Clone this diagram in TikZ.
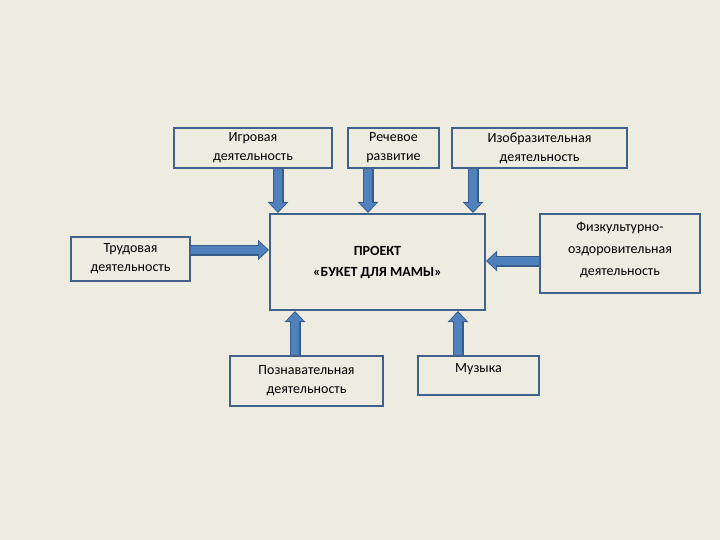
\documentclass[tikz,border=0pt]{standalone}
\usepackage{fontspec}
\setmainfont{Carlito}
\usetikzlibrary{arrows.meta,positioning}
\definecolor{bgcol}{HTML}{EEEBE0}
\definecolor{boxline}{HTML}{40618C}
\definecolor{arrfill}{HTML}{4F81BD}
\definecolor{arrline}{HTML}{385D8A}
\tikzset{
  box/.style={draw=boxline, line width=2pt, anchor=north west, align=center,
    font=\fontsize{14}{19}\selectfont, inner sep=1pt},
  arrout/.style={draw=arrline, line width=11pt, -{Triangle[length=11pt,width=20pt]}},
  arrin/.style={draw=arrfill, line width=8pt, shorten >=1.5pt, -{Triangle[length=8.5pt,width=16pt]}}
}
\newcommand{\fatarrow}[2]{\draw[arrout] (#1) -- (#2); \draw[arrin] (#1) -- (#2);}
\begin{document}
\begin{tikzpicture}[x=1pt,y=-1pt]
\fill[bgcol] (0,0) rectangle (720,540);
\useasboundingbox (0,0) rectangle (720,540);

\node[box, minimum width=158pt, minimum height=40pt] (igr) at (173,127) {Игровая\\деятельность};
\node[box, minimum width=91pt, minimum height=40pt] (rech) at (347,127) {Речевое\\развитие};
\node[box, minimum width=175pt, minimum height=40pt] (izo) at (451,127) {Изобразительная\\деятельность};
\node[box, minimum width=215pt, minimum height=96pt, font=\fontsize{14}{21}\selectfont\bfseries] (proj) at (269,213) {ПРОЕКТ\\«БУКЕТ ДЛЯ МАМЫ»};
\node[box, minimum width=119pt, minimum height=44pt] (trud) at (70,236) {Трудовая\\деятельность};
\node[box, minimum width=160pt, minimum height=79pt, font=\fontsize{14}{22}\selectfont, text depth=10pt] (fiz) at (539,213) {Физкультурно-\\оздоровительная\\деятельность};
\node[box, minimum width=153pt, minimum height=50pt] (pozn) at (229,355) {Познавательная\\деятельность};
\node[box, minimum width=121pt, minimum height=39pt, text depth=14pt] (muz) at (417,355) {Музыка};

% arrows into the project box
\fatarrow{igr.south -| 278,0}{proj.north -| 278,0}
\fatarrow{rech.south -| 368,0}{proj.north -| 368,0}
\fatarrow{izo.south -| 473,0}{proj.north -| 473,0}
\fatarrow{trud.east |- 0,250}{proj.west |- 0,250}
\fatarrow{fiz.west |- 0,261}{proj.east |- 0,261}
\fatarrow{pozn.north -| 295,0}{proj.south -| 295,0}
\fatarrow{muz.north -| 458,0}{proj.south -| 458,0}
\end{tikzpicture}
\end{document}
